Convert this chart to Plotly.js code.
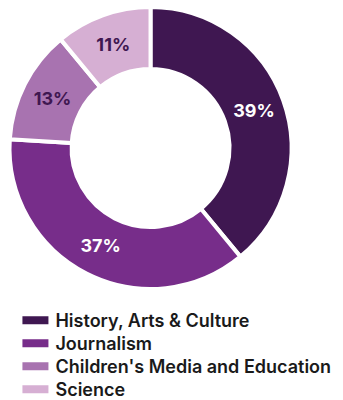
<!DOCTYPE html>
<html><head><meta charset="utf-8">
<script src="https://cdn.plot.ly/plotly-3.0.1.min.js"></script>
<style>html,body{margin:0;padding:0;background:#fff}#chart{width:343px;height:400px}</style>
</head><body><div id="chart"></div>
<script>
const categories = ["History, Arts & Culture", "Journalism", "Children's Media and Education", "Science"];
const shares = [39, 37, 13, 11];
const colors = ["#3f1751", "#772d8a", "#a873b0", "#d6afd3"];
const labelColors = ["#ffffff", "#ffffff", "#3f1751", "#3f1751"];

const trace = {
  type: 'pie',
  labels: categories,
  values: shares,
  sort: false,
  direction: 'clockwise',
  rotation: 0,
  hole: 0.56,
  marker: {colors: colors, line: {color: '#ffffff', width: 4}},
  textinfo: 'percent',
  texttemplate: '%{percent:.0%}',
  textposition: 'inside',
  insidetextorientation: 'horizontal',
  textfont: {family: 'Inter, sans-serif', size: 18, weight: 700, color: labelColors},
  domain: {x: [0.0277, 0.85], y: [0.2775, 0.9825]},
  hoverinfo: 'none'
};

const layout = {
  width: 343, height: 400,
  margin: {l: 0, r: 0, t: 0, b: 0, autoexpand: false},
  paper_bgcolor: '#ffffff',
  showlegend: true,
  legend: {
    x: 0.045, y: 0.245, xanchor: 'left', yanchor: 'top',
    bgcolor: 'rgba(0,0,0,0)',
    font: {family: 'Inter, sans-serif', size: 18, weight: 600, color: '#1a1a1a'},
    itemwidth: 30, tracegroupgap: 0
  }
};

const rowStep = 23;
function tidyLegend(gd) {
  gd.querySelectorAll('.legendpoints path').forEach(function (p) {
    p.setAttribute('d', 'M15,6H-15V-6H15Z');
  });
  const items = gd.querySelectorAll('.legend .traces');
  if (!items.length) return;
  const m = /translate\(([-\d.]+),\s*([-\d.]+)\)/.exec(items[0].getAttribute('transform') || '');
  const x0 = m ? parseFloat(m[1]) : 0, y0 = m ? parseFloat(m[2]) : 0;
  items.forEach(function (it, i) {
    it.setAttribute('transform', 'translate(' + x0 + ',' + (y0 + i * rowStep) + ')');
  });
}
Plotly.newPlot('chart', [trace], layout, {displayModeBar: false, staticPlot: true}).then(function (gd) {
  tidyLegend(gd);
  setTimeout(function () { tidyLegend(gd); }, 50);
});
</script>
</body></html>
